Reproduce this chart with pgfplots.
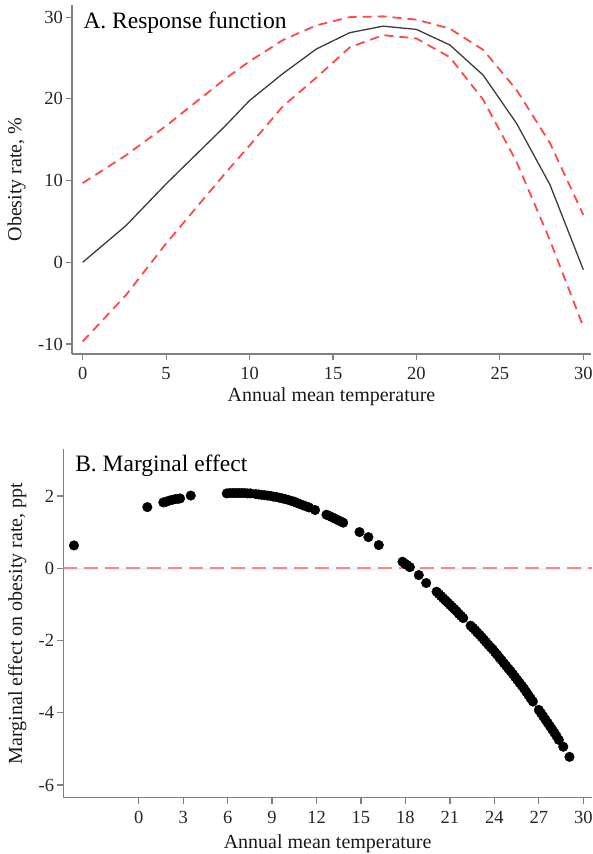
\documentclass[border=0pt]{standalone}
\usepackage{fontspec}
\setmainfont{Liberation Serif}
\usepackage{pgfplots}
\usepackage{pgfplotstable}
\pgfplotsset{compat=1.18}

\definecolor{cired}{RGB}{255,72,72}
\definecolor{zeroline}{RGB}{255,130,130}
\definecolor{axisgray}{RGB}{128,128,128}
\definecolor{curvegray}{RGB}{60,60,60}

% Response function: point estimate and 95% band
\pgfplotstableread{
t     fit    hi     lo
0     0.0    9.7   -9.7
2.6   4.5   13.1   -4.0
5     9.6   16.7    2.3
8.5  16.6   22.4   10.8
10   19.8   24.6   14.3
12   23.1   27.2   19.1
14   26.1   29.0   22.6
16   28.1   30.0   26.3
18   28.9   30.1   27.8
20   28.5   29.7   27.4
22   26.6   28.6   25.1
24   22.9   26.0   19.9
26   17.0   21.1   12.3
28    9.5   14.6    2.7
30   -0.9    5.8   -7.9
}\resp

% Marginal effect at each observed temperature
\pgfplotstableread{
t      me
-4.37  0.63
0.58   1.69
1.66   1.82
1.85   1.84
2.05   1.87
2.25   1.89
2.45   1.91
2.65   1.92
2.79   1.93
3.51   2.01
5.94   2.07
6.15   2.08
6.35   2.08
6.55   2.08
6.75   2.08
6.95   2.08
7.15   2.08
7.35   2.07
7.55   2.07
7.9    2.05
8.1    2.04
8.3    2.03
8.5    2.02
8.7    2.01
8.9    2.00
9.1    1.98
9.3    1.97
9.5    1.95
9.7    1.93
9.9    1.91
10.1   1.89
10.32  1.86
10.5   1.84
10.66  1.81
10.85  1.78
11.1   1.74
11.3   1.71
11.5   1.68
11.9   1.61
12.67  1.48
12.85  1.45
13.05  1.41
13.25  1.37
13.45  1.33
13.65  1.29
13.8   1.26
14.9   1.00
15.5   0.86
16.2   0.64
17.8   0.18
17.95  0.13
18.1   0.09
18.3   0.03
18.9  -0.19
19.4  -0.41
20.1  -0.65
20.25 -0.71
20.4  -0.77
20.55 -0.83
20.7  -0.89
20.85 -0.95
21.0  -1.01
21.15 -1.07
21.3  -1.13
21.45 -1.19
21.6  -1.26
21.75 -1.32
21.9  -1.38
22.4  -1.59
22.55 -1.65
22.7  -1.71
22.85 -1.78
23.0  -1.84
23.15 -1.91
23.3  -1.98
23.45 -2.05
23.6  -2.12
23.75 -2.19
23.9  -2.25
24.05 -2.33
24.2  -2.40
24.35 -2.48
24.5  -2.55
24.65 -2.63
24.8  -2.70
24.95 -2.78
25.1  -2.85
25.25 -2.93
25.4  -3.01
25.55 -3.09
25.7  -3.17
25.85 -3.25
26.0  -3.33
26.15 -3.42
26.3  -3.51
26.45 -3.60
26.6  -3.69
27.0  -3.92
27.15 -4.01
27.3  -4.10
27.45 -4.19
27.6  -4.28
27.75 -4.37
27.9  -4.46
28.05 -4.55
28.2  -4.65
28.35 -4.75
28.65 -4.94
29.07 -5.22
}\marg

\pgfplotsset{
  panel/.style={
    scale only axis,
    anchor=south west,
    axis lines*=left,
    axis line style={axisgray, line width=1.2pt},
    every tick/.style={axisgray, line width=1.2pt},
    tick align=outside,
    major tick length=6pt,
    tick label style={font=\fontsize{18.5}{20}\selectfont, text=black!85, inner sep=3pt},
    xticklabel style={yshift=-4pt},
    /pgf/number format/assume math mode=true,
    label style={font=\fontsize{20}{22}\selectfont, text=black!90},
    xlabel style={anchor=base},
    ylabel style={anchor=base},
    clip=false,
  },
}

\begin{document}
\begin{tikzpicture}
\useasboundingbox (0pt,0pt) rectangle (592pt,854pt);

% Panel A
\begin{axis}[panel,
  at={(72pt,500pt)}, width=519pt, height=349pt,
  xmin=-0.64, xmax=30.46, ymin=-11.22, ymax=31.49,
  xtick={0,5,...,30}, ytick={-10,0,10,20,30},
  xlabel={Annual mean temperature},
  ylabel={Obesity rate, \%},
  xlabel style={at={(axis description cs:0.5,-0.1375)}},
  ylabel style={at={(axis description cs:-0.0973,0.5)}},
]
\addplot[cired, line width=1.8pt, dash pattern=on 9pt off 6pt] table[x=t, y=hi] {\resp};
\addplot[cired, line width=1.8pt, dash pattern=on 9pt off 6pt] table[x=t, y=lo] {\resp};
\addplot[curvegray, line width=1.3pt] table[x=t, y=fit] {\resp};
\node[anchor=base west, font=\fontsize{23.5}{26}\selectfont] at (rel axis cs:0.0154,0.934) {A. Response function};
\end{axis}

% Panel B
\begin{axis}[panel,
  at={(63.3pt,56.3pt)}, width=528.7pt, height=348.4pt,
  xmin=-5.09, xmax=30.59, ymin=-6.35, ymax=3.29,
  xtick={0,3,...,30}, ytick={-6,-4,-2,0,2},
  xlabel={Annual mean temperature},
  ylabel={Marginal effect on obesity rate, ppt},
  xlabel style={at={(axis description cs:0.5,-0.1464)}},
  ylabel style={at={(axis description cs:-0.078,0.5)}},
]
\addplot[zeroline, line width=1.7pt, dash pattern=on 14pt off 7pt] coordinates {(-5.09,0) (30.59,0)};
\addplot[only marks, mark=*, mark size=4.8pt, mark options={fill=black, draw=black}] table[x=t, y=me] {\marg};
\node[anchor=base west, font=\fontsize{23.5}{26}\selectfont] at (rel axis cs:0.016,0.936) {B. Marginal effect};
\end{axis}
\end{tikzpicture}
\end{document}
